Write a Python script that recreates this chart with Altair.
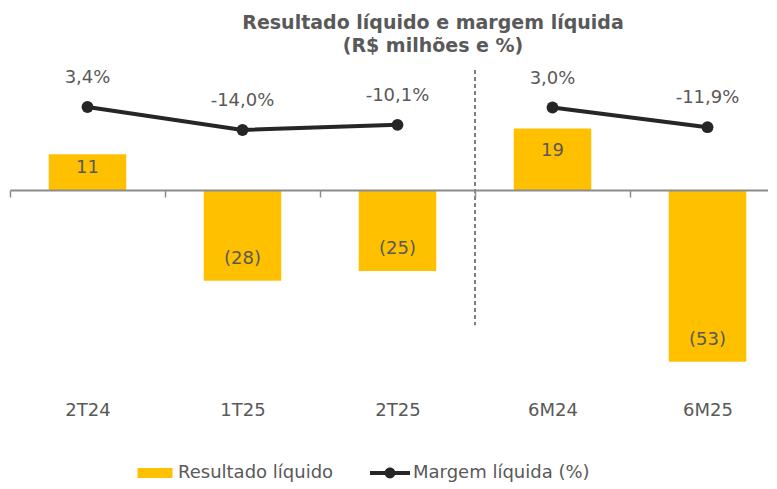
import altair as alt
import pandas as pd

categories = ["2T24", "1T25", "2T25", "6M24", "6M25"]
resultado = [11, -28, -25, 19, -53]
margem = [3.4, -14.0, -10.1, 3.0, -11.9]
grupo = ["trimestre", "trimestre", "trimestre", "semestre", "semestre"]
series = ["Resultado líquido", "Margem líquida (%)"]
cores = ["#FFC000", "#262626"]
titulo = ["Resultado líquido e margem líquida", "(R$ milhões e %)"]

df = pd.DataFrame({"cat": categories, "res": resultado, "mar": margem, "grp": grupo})
sep_df = pd.DataFrame({"cat": [categories[2]]})

FONT = "DejaVu Sans"
TXT = "#595959"
AXC = "#8c8c8c"
W, H = 758, 320
RANGE_W = 775

bar_scale = alt.Scale(domain=[-58.6, 40.1], nice=False, zero=False)
line_scale = alt.Scale(domain=[-203.4, 39.0], nice=False, zero=False)

RECT = "M-0.875,-0.25H0.875V0.25H-0.875Z"
LINEP = "M-1,-0.1H1V0.1H-1Z M-0.27,0A0.27,0.27 0 1,1 0.27,0A0.27,0.27 0 1,1 -0.27,0Z"
test = f"datum.value === '{series[0]}'"

legend = alt.Legend(
    title=None, orient="none", legendX=125, legendY=393, direction="horizontal",
    symbolSize=1600, labelFont=FONT, labelFontSize=18, labelColor=TXT, labelOffset=3,
    labelLimit=400, columnPadding=36, symbolStrokeWidth=0, symbolOpacity=1,
    symbolType=alt.ExprRef(expr=f"{test} ? '{RECT}' : '{LINEP}'"),
    symbolFillColor=alt.ExprRef(expr=f"{test} ? '{cores[0]}' : '{cores[1]}'"),
)
color = alt.Color("serie:N", scale=alt.Scale(domain=series, range=cores), legend=legend)

x_scale = alt.Scale(domain=categories, range=[0, RANGE_W], paddingInner=0, paddingOuter=0)
x_axis = alt.Axis(
    title=None, labelAngle=0, labelFont=FONT, labelFontSize=18, labelColor=TXT,
    labelPadding=204, tickBand="extent", tickSize=7, tickColor=AXC, tickWidth=1.5,
    domainColor=AXC, domainWidth=2, offset=-190, zindex=1, grid=False,
)


def xenc(**kw):
    return alt.X("cat:N", sort=categories, scale=x_scale, axis=x_axis, **kw)


base = alt.Chart(df)

bars = base.transform_calculate(serie=f"'{series[0]}'").mark_bar(
    opacity=1, width=alt.RelativeBandSize(0.5)
).encode(x=xenc(), y=alt.Y("res:Q", scale=bar_scale, axis=None), color=color)

bar_text = base.transform_calculate(
    lab_y="datum.res > 0 ? datum.res * 0.63 : datum.res + 6.8",
    lab="datum.res < 0 ? '(' + abs(datum.res) + ')' : '' + datum.res",
).mark_text(font=FONT, fontSize=18, color=TXT, baseline="middle").encode(
    x=xenc(), y=alt.Y("lab_y:Q", scale=bar_scale, axis=None), text="lab:N"
)

# separator between the quarterly and the semester groups (end of the 2T25 band)
sep = alt.Chart(sep_df).mark_rule(strokeDash=[4, 3], color="#555555", strokeWidth=1.5).encode(
    x=xenc(bandPosition=1),
    y=alt.YDatum(37.0, scale=bar_scale, axis=None),
    y2=alt.Y2Datum(-41.7),
)

line = base.transform_calculate(serie=f"'{series[1]}'").mark_line(strokeWidth=4).encode(
    x=xenc(), y=alt.Y("mar:Q", scale=line_scale, axis=None), color=color, detail="grp:N"
)

points = base.transform_calculate(serie=f"'{series[1]}'").mark_circle(size=140, opacity=1).encode(
    x=xenc(), y=alt.Y("mar:Q", scale=line_scale, axis=None), color=color
)

pct_text = base.transform_calculate(
    pct="(datum.mar < 0 ? '-' : '') + replace(format(abs(datum.mar), '.1f'), '.', ',') + '%'"
).mark_text(font=FONT, fontSize=18, color=TXT, baseline="middle", dy=-29).encode(
    x=xenc(), y=alt.Y("mar:Q", scale=line_scale, axis=None), text="pct:N"
)

chart = alt.layer(bars, bar_text, sep, line, points, pct_text).resolve_scale(
    y="independent"
).properties(
    width=W, height=H,
    autosize=alt.AutoSizeParams(type="none"),
    padding={"left": 2, "top": 52, "right": 0, "bottom": 104},
    title=alt.TitleParams(
        text=titulo, font=FONT, fontSize=19, fontWeight="bold", color=TXT,
        anchor="middle", dx=44, offset=4, lineHeight=23,
    ),
).configure_view(stroke=None)

chart.save("out.html", embed_options={"renderer": "svg", "actions": False})
